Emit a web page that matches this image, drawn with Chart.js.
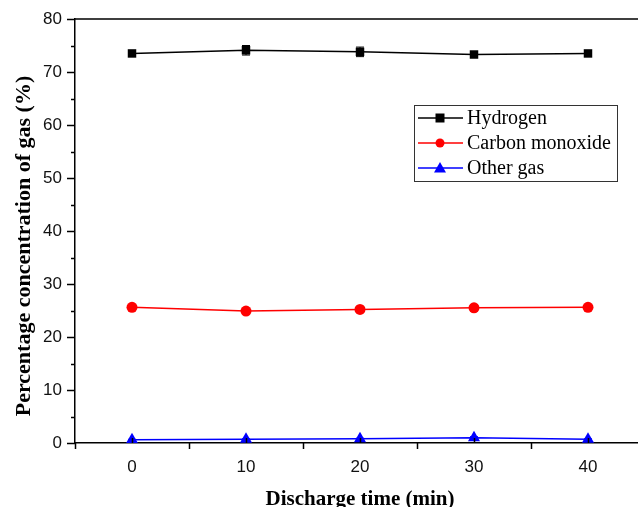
<!DOCTYPE html>
<html>
<head>
<meta charset="utf-8">
<script src="https://cdn.jsdelivr.net/npm/chart.js@4.4.1/dist/chart.umd.min.js"></script>
<style>
  html, body { margin: 0; padding: 0; background: #fff; overflow: hidden; }
  canvas { display: block; }
</style>
</head>
<body>
<canvas id="myChart" width="652" height="507"></canvas>
<script>
// datos
const times = [0, 10, 20, 30, 40];
const hydrogen = [73.5, 74.1, 73.8, 73.3, 73.5];
const hydrogenErr = [0.4, 0.9, 0.9, 0.4, 0.5];
const carbonMonoxide = [25.6, 24.9, 25.2, 25.5, 25.6];
const carbonMonoxideErr = [0.3, 0.3, 0.3, 0.6, 0.5];
const otherGas = [0.6, 0.7, 0.8, 1.0, 0.7];
const otherGasErr = [0.1, 0.1, 0.1, 0.2, 0.1];
const seriesNames = ['Hydrogen', 'Carbon monoxide', 'Other gas'];
const yTitle = 'Percentage concentration of gas (%)';

const ctx = document.getElementById('myChart');

const toPoints = (ys) => times.map((t, i) => ({ x: t, y: ys[i] }));

// barras de error
const errorBars = {
  id: 'errorBars',
  afterDatasetsDraw(chart) {
    const c = chart.ctx;
    const xs = chart.scales.x, ys = chart.scales.y;
    chart.data.datasets.forEach(ds => {
      c.save();
      c.strokeStyle = ds.borderColor;
      c.lineWidth = 1;
      ds.data.forEach((p, i) => {
        const e = ds.err[i];
        const px = xs.getPixelForValue(p.x);
        const top = ys.getPixelForValue(p.y + e);
        const bot = ys.getPixelForValue(p.y - e);
        c.beginPath();
        c.moveTo(px, top); c.lineTo(px, bot);
        c.moveTo(px - 4, top); c.lineTo(px + 4, top);
        c.moveTo(px - 4, bot); c.lineTo(px + 4, bot);
        c.stroke();
      });
      c.restore();
    });
  }
};

// marcas de los ejes, marco superior y titulo del eje y
const axisTicks = {
  id: 'axisTicks',
  afterDraw(chart) {
    const c = chart.ctx;
    const a = chart.chartArea;
    const xs = chart.scales.x, ys = chart.scales.y;
    c.save();
    c.strokeStyle = '#000';
    c.lineWidth = 1.5;
    c.beginPath();
    c.moveTo(a.left, a.top); c.lineTo(a.right, a.top);
    ys.ticks.forEach(t => {
      const py = Math.round(ys.getPixelForValue(t.value)) + 0.5;
      const len = t.value % 10 === 0 ? 8 : 4;
      c.moveTo(a.left, py); c.lineTo(a.left - len, py);
    });
    xs.ticks.forEach(t => {
      const px = Math.round(xs.getPixelForValue(t.value)) + 0.5;
      if (t.value % 10 === 0) {
        c.moveTo(px, a.bottom); c.lineTo(px, a.bottom - 5);
      } else {
        c.moveTo(px, a.bottom); c.lineTo(px, a.bottom + 6);
      }
    });
    c.stroke();

    c.translate(24, 246);
    c.rotate(-Math.PI / 2);
    c.fillStyle = '#000';
    c.font = 'bold 22px "Liberation Serif", "Times New Roman", serif';
    c.textAlign = 'center';
    c.textBaseline = 'middle';
    c.fillText(yTitle, 0, 0);
    c.restore();
  }
};

// leyenda dentro del grafico
const boxLegend = {
  id: 'boxLegend',
  afterDraw(chart) {
    const c = chart.ctx;
    const x0 = 414, y0 = 105, w = 203, h = 76;
    c.save();
    c.fillStyle = '#fff';
    c.fillRect(x0, y0, w, h);
    c.strokeStyle = '#333';
    c.lineWidth = 1;
    c.strokeRect(x0 + 0.5, y0 + 0.5, w, h);
    chart.data.datasets.forEach((ds, i) => {
      const cy = 118 + i * 25;
      c.strokeStyle = ds.borderColor;
      c.lineWidth = 1.5;
      c.beginPath();
      c.moveTo(418, cy); c.lineTo(463, cy);
      c.stroke();
      c.fillStyle = ds.borderColor;
      const mx = 440;
      c.beginPath();
      if (ds.pointStyle === 'rect') {
        c.rect(mx - 4.5, cy - 4.5, 9, 9);
      } else if (ds.pointStyle === 'circle') {
        c.arc(mx, cy, 4.5, 0, Math.PI * 2);
      } else {
        c.moveTo(mx, cy - 6); c.lineTo(mx + 6, cy + 4.5); c.lineTo(mx - 6, cy + 4.5); c.closePath();
      }
      c.fill();
      c.fillStyle = '#000';
      c.font = '20px "Liberation Serif", "Times New Roman", serif';
      c.textBaseline = 'middle';
      c.fillText(seriesNames[i], 467, cy + 1);
    });
    c.restore();
  }
};

new Chart(ctx, {
  type: 'line',
  data: {
    datasets: [
      { label: seriesNames[0], data: toPoints(hydrogen), err: hydrogenErr,
        borderColor: '#000000', backgroundColor: '#000000', pointStyle: 'rect', pointRadius: 6 },
      { label: seriesNames[1], data: toPoints(carbonMonoxide), err: carbonMonoxideErr,
        borderColor: '#ff0000', backgroundColor: '#ff0000', pointStyle: 'circle', pointRadius: 5.5 },
      { label: seriesNames[2], data: toPoints(otherGas), err: otherGasErr,
        borderColor: '#0000ff', backgroundColor: '#0000ff', pointStyle: 'triangle', pointRadius: 7 }
    ].map(d => Object.assign(d, { borderWidth: 1.5, tension: 0, pointBorderWidth: 0 }))
  },
  options: {
    responsive: false,
    animation: false,
    layout: { padding: { left: 0, top: 19, right: 2, bottom: 0 } },
    plugins: { legend: { display: false }, tooltip: { enabled: false } },
    scales: {
      x: {
        type: 'linear',
        min: -5,
        max: 45,
        afterFit: s => { s.height = 64; },
        grid: { display: false },
        border: { display: true, color: '#000', width: 1.5 },
        ticks: {
          stepSize: 5,
          padding: 6,
          color: '#111',
          font: { family: '"Liberation Sans", Arial, sans-serif', size: 17 },
          callback: v => (v % 10 === 0 && v >= 0 && v <= 40) ? v : ''
        },
        title: {
          display: true,
          text: 'Discharge time (min)',
          color: '#000',
          font: { family: '"Liberation Serif", "Times New Roman", serif', size: 21, weight: 'bold' },
          padding: { top: 4, bottom: -5 }
        }
      },
      y: {
        min: 0,
        max: 80,
        afterFit: s => { s.width = 75; },
        grid: { display: false },
        border: { display: true, color: '#000', width: 1.5 },
        ticks: {
          stepSize: 5,
          padding: 5,
          color: '#111',
          font: { family: '"Liberation Sans", Arial, sans-serif', size: 17 },
          callback: v => (v % 10 === 0) ? v : ''
        }
      }
    }
  },
  plugins: [errorBars, axisTicks, boxLegend]
});
</script>
</body>
</html>
